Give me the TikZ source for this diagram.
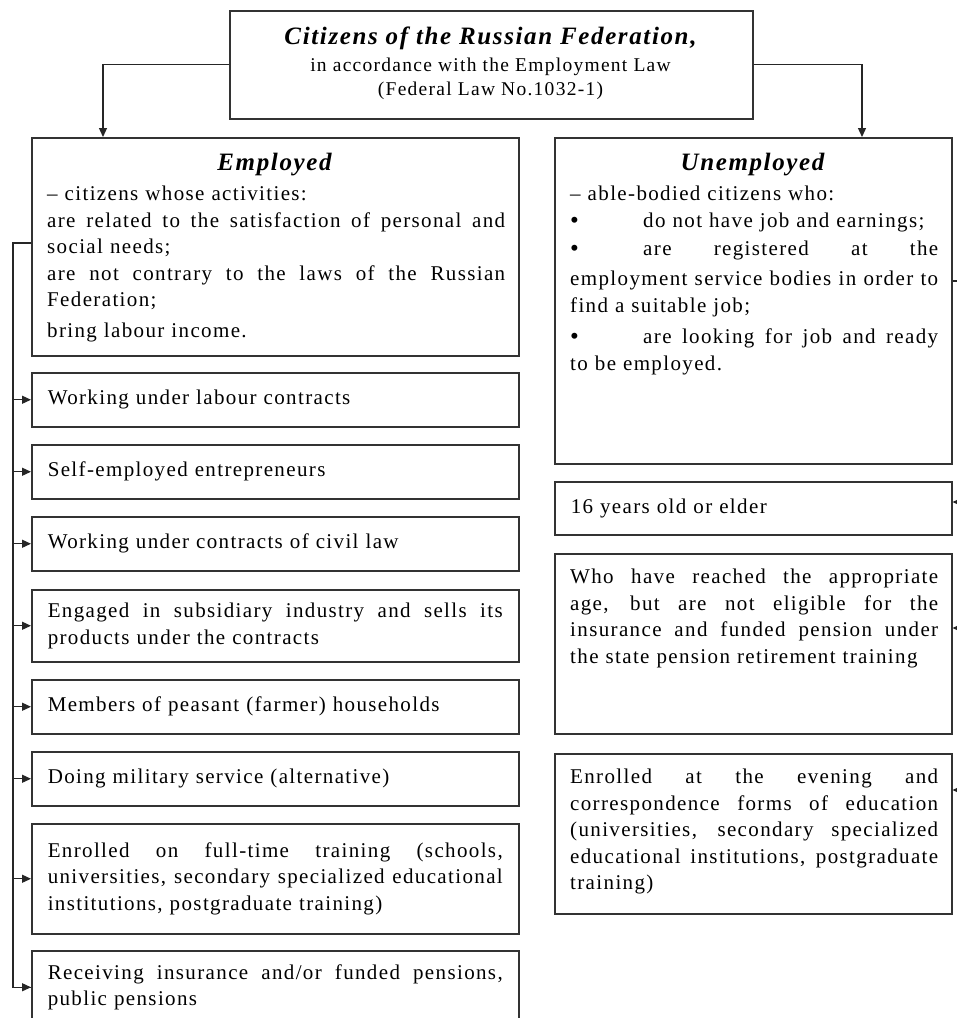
\documentclass[tikz,border=0pt]{standalone}
\usepackage{fontspec}
\setmainfont{Liberation Serif}[LetterSpace=6.5]
\usetikzlibrary{arrows.meta,calc}
% a line stretched to the full width of its box
\newcommand{\jl}[1]{\makebox[\hsize][s]{\spaceskip=0pt \xspaceskip=0pt #1}}
\newcommand{\bul}{\makebox[73pt][l]{\fontsize{25}{25}\selectfont\raisebox{-1pt}{\textbullet}}}
\begin{document}
\begin{tikzpicture}[x=1pt,y=-1pt,
  box/.style={draw=black!80,line width=1.5pt,fill=white,inner sep=0pt},
  bodytext/.style={font=\fontsize{21}{26.5}\selectfont,align=left,inner xsep=0pt,inner ysep=0pt},
  heading/.style={font=\fontsize{25}{26}\selectfont\bfseries\itshape,anchor=base},
  boxed/.style={box,anchor=north west,minimum width=487pt,inner xsep=16pt,text width=455pt,
     font=\fontsize{21}{26.5}\selectfont,align=left},
  rboxed/.style={box,anchor=north west,minimum width=397pt,inner xsep=16pt,text width=365pt,
     font=\fontsize{21}{26.5}\selectfont,align=left},
  wire/.style={line width=1.3pt,draw=black!85},
  arr/.style={wire,-{Triangle[length=9pt,width=8pt]}}]
\useasboundingbox (0,0) rectangle (957,1018);
\fill[white] (0,0) rectangle (957,1018);

% root box
\node[box,anchor=north west,minimum width=523pt,minimum height=108pt] (root) at (229,10) {};
\node[heading] (roottitle) at (490.5,44) {Citizens of the Russian Federation,};
\node[font=\fontsize{19.5}{24}\selectfont,align=center,anchor=north] (rootsub) at (490.5,54)
  {in accordance with the Employment Law\\(Federal Law No.1032-1)};

% employed
\node[box,anchor=north west,minimum width=487pt,minimum height=218pt] (emp) at (31,137) {};
\node[heading] (emptitle) at (274.5,170) {Employed};
\node[bodytext,text width=458pt,anchor=north west] (emptext) at (47,186) {%
  -- citizens whose activities:\\
  \jl{are related to the satisfaction of personal and}\\
  social needs;\\
  \jl{are not contrary to the laws of the Russian}\\
  Federation;\\[4pt]
  bring labour income.};

% unemployed
\node[box,anchor=north west,minimum width=397pt,minimum height=326pt] (unemp) at (554,137) {};
\node[heading] (unemptitle) at (752.5,170) {Unemployed};
\node[bodytext,text width=368pt,anchor=north west] (unemptext) at (570,186) {%
  -- able-bodied citizens who:\\[0.5pt]
  \bul do not have job and earnings;\\[1.5pt]
  \jl{\bul are registered at the}\\[3.5pt]
  \jl{employment service bodies in order to}\\[0.5pt]
  find a suitable job;\\[4.5pt]
  \jl{\bul are looking for job and ready}\\[0.5pt]
  to be employed.};

% left column of categories
\node[boxed,minimum height=54pt] (b1) at (31,372) {Working under labour contracts};
\node[boxed,minimum height=54pt] (b2) at (31,444) {Self-employed entrepreneurs};
\node[boxed,minimum height=54pt] (b3) at (31,516) {Working under contracts of civil law};
\node[boxed,minimum height=72pt] (b4) at (31,589) {\jl{Engaged in subsidiary industry and sells its}\\products under the contracts};
\node[boxed,minimum height=54pt] (b5) at (31,679) {Members of peasant (farmer) households};
\node[boxed,minimum height=54pt] (b6) at (31,751) {Doing military service (alternative)};
\node[boxed,minimum height=110pt] (b7) at (31,823) {\jl{Enrolled on full-time training (schools,}\\\jl{universities, secondary specialized educational}\\institutions, postgraduate training)};
\node[boxed,minimum height=73pt] (b8) at (31,950) {\jl{Receiving insurance and/or funded pensions,}\\public pensions};

% right column of categories
\node[rboxed,minimum height=53pt] (r1) at (554,481) {16 years old or elder};
\node[rboxed,minimum height=180pt] (r2) at (554,553) {};
\node[bodytext,text width=368pt,anchor=north west] (r2text) at (570,569) {%
  \jl{Who have reached the appropriate}\\
  \jl{age, but are not eligible for the}\\
  \jl{insurance and funded pension under}\\
  the state pension retirement training};
\node[rboxed,minimum height=160pt] (r3) at (554,753) {};
\node[bodytext,text width=368pt,anchor=north west] (r3text) at (570,769) {%
  \jl{Enrolled at the evening and}\\
  \jl{correspondence forms of education}\\
  \jl{(universities, secondary specialized}\\
  \jl{educational institutions, postgraduate}\\
  training)};

% connectors from the root box
\coordinate (lrail) at (13,243);
\coordinate (rrail) at (963,281);
\draw[arr] (root.west) -| ($(emp.north west)+(72,0)$);
\draw[arr] (root.east) -| ($(unemp.north west)+(308,0)$);

% left rail
\draw[wire] (emp.west |- lrail) -- (lrail) |- (b8.west);
\foreach \b in {b1,b2,b3,b4,b5,b6,b7,b8}
  \draw[arr] (lrail |- \b.west) -- (\b.west);

% right rail
\draw[wire] (unemp.east |- rrail) -- (rrail) -- (rrail |- r3.south);
\draw[arr] ($(rrail |- r1.north east)+(0,21)$) -- ($(r1.north east)+(0,21)$);
\draw[arr] ($(rrail |- r2.north east)+(0,75)$) -- ($(r2.north east)+(0,75)$);
\draw[arr] ($(rrail |- r3.north east)+(0,37)$) -- ($(r3.north east)+(0,37)$);
\end{tikzpicture}
\end{document}
